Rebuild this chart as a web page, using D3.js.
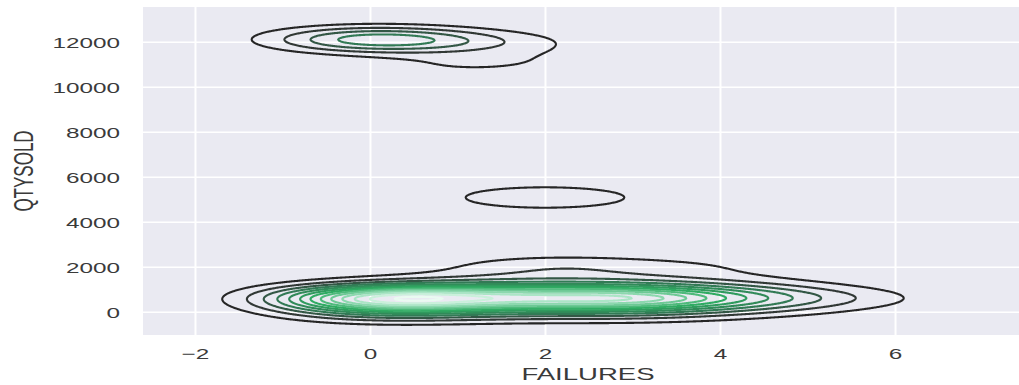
<!DOCTYPE html>
<html>
<head>
<meta charset="utf-8">
<script src="https://cdn.jsdelivr.net/npm/d3@7"></script>
<style>
  body { margin: 0; background: #ffffff; }
  svg { display: block; }
</style>
</head>
<body>
<svg id="chart" width="1019" height="385"></svg>
<script>
// Weighted observations: number of failures vs. quantity sold
const failures = [0, 1, 1, 2, 2, 2,                 2,
                  0, 1, 2, 3, 4, 5, 6,
                  0, 1, 2, 3, 4, 5,
                  0, 1, 2, 3, 4, 5,
                  1, 2, 3, 4];
const qtySold  = [12100, 12000, 10950, 12100, 11600, 11100, 5075,
                  600, 600, 600, 600, 600, 600, 600,
                  0, 0, 0, 0, 0, 0,
                  1200, 1200, 1200, 1200, 1200, 1200,
                  2000, 2000, 2000, 2000];
const weight   = [4.1, 1.3, 0.8, 0.2, 0.25, 0.35,   1.9,
                  8.4, 5.3, 4.6, 6.2, 2.9, 1.4, 0.3,
                  1.8, 1.0, 0.8, 1.0, 0.5, 0.2,
                  0.2, 0.8, 1.0, 0.8, 0.6, 0.2,
                  0.2, 1.2, 0.6, 0.5];

// Kernel bandwidth (failures, quantity) and spacing between contour levels
const bandwidth = [0.8, 400];
const levelStep = 1;

const xTicks = [-2, 0, 2, 4, 6];
const yTicks = [0, 2000, 4000, 6000, 8000, 10000, 12000];
const xLabel = "FAILURES";
const yLabel = "QTYSOLD";

// Layout
const margin = { left: 143, top: 7, right: 1033, bottom: 335 };
const stretch = 1.62;           // wide text rendering
const W = margin.right - margin.left;
const H = margin.bottom - margin.top;
const font = "'Liberation Sans', Arial, sans-serif";

const svg = d3.select("#chart");

const x = d3.scaleLinear().domain([-2.594, 7.577]).range([margin.left, margin.right]);
const y = d3.scaleLinear().domain([-1036, 13542]).range([margin.bottom, margin.top]);

// Plot background
svg.append("rect")
  .attr("x", margin.left).attr("y", margin.top)
  .attr("width", W).attr("height", H)
  .attr("fill", "#eaeaf2");

// Grid + tick labels via d3 axes
const xAxis = svg.append("g")
  .attr("transform", `translate(0,${margin.bottom})`)
  .call(d3.axisBottom(x).tickValues(xTicks).tickSize(-H).tickPadding(0).tickFormat(d3.format("d")));
xAxis.select(".domain").remove();
xAxis.selectAll(".tick line").attr("stroke", "#ffffff").attr("stroke-width", 2);
xAxis.selectAll(".tick text")
  .attr("y", 0).attr("dy", 0)
  .attr("transform", `translate(0,24) scale(${stretch},1)`)
  .attr("fill", "#3a3a3a")
  .style("font-family", font)
  .style("font-size", "15px");

const yAxis = svg.append("g")
  .attr("transform", `translate(${margin.left},0)`)
  .call(d3.axisLeft(y).tickValues(yTicks).tickSize(-W).tickPadding(0).tickFormat(d3.format("d")));
yAxis.select(".domain").remove();
yAxis.selectAll(".tick line").attr("stroke", "#ffffff").attr("stroke-width", 1.4);
yAxis.selectAll(".tick text")
  .attr("x", 0).attr("dy", 0)
  .attr("transform", `translate(-23,5.5) scale(${stretch},1)`)
  .attr("fill", "#3a3a3a")
  .style("font-family", font)
  .style("font-size", "15px");

// Axis titles
svg.append("text")
  .attr("transform", `translate(${(margin.left + margin.right) / 2},380) scale(${stretch},1)`)
  .attr("text-anchor", "middle")
  .attr("fill", "#3a3a3a")
  .style("font-family", font)
  .style("font-size", "17px")
  .text(xLabel);

svg.append("text")
  .attr("transform", `translate(33,${(margin.top + margin.bottom) / 2}) scale(${stretch},1) rotate(-90)`)
  .attr("text-anchor", "middle")
  .attr("fill", "#3a3a3a")
  .style("font-family", font)
  .style("font-size", "17px")
  .text(yLabel);

// Bivariate Gaussian KDE evaluated on a pixel grid
const nx = Math.ceil(W), ny = Math.ceil(H);
const points = failures.map((f, i) => ({ f, q: qtySold[i], w: weight[i] }));
const gx = points.map(p => {
  const a = new Float64Array(nx);
  for (let i = 0; i < nx; i++) {
    const d = (x.invert(margin.left + i + 0.5) - p.f) / bandwidth[0];
    a[i] = Math.exp(-0.5 * d * d);
  }
  return a;
});
const gy = points.map(p => {
  const a = new Float64Array(ny);
  for (let j = 0; j < ny; j++) {
    const d = (y.invert(margin.top + j + 0.5) - p.q) / bandwidth[1];
    a[j] = Math.exp(-0.5 * d * d);
  }
  return a;
});
const grid = new Float64Array(nx * ny);
points.forEach((p, k) => {
  const ax = gx[k], ay = gy[k];
  for (let j = 0; j < ny; j++) {
    const wy = p.w * ay[j];
    if (wy < 1e-6) continue;
    const row = j * nx;
    for (let i = 0; i < nx; i++) grid[row + i] += wy * ax[i];
  }
});

const maxDensity = d3.max(grid);
const levels = d3.range(levelStep, maxDensity, levelStep);

// Low density: near black, rising through green to pale mint
const color = d3.scaleLinear()
  .domain([1, 2.2, 4, 7, 10.5, 13])
  .range(["#262626", "#333b38", "#327a55", "#2fab62", "#9be0bb", "#eafaf1"])
  .clamp(true);

const contours = d3.contours().size([nx, ny]).thresholds(levels)(grid);
const path = d3.geoPath(d3.geoIdentity().translate([margin.left, margin.top]));

svg.append("g")
  .selectAll("path")
  .data(contours)
  .join("path")
  .attr("d", path)
  .attr("fill", "none")
  .attr("stroke", d => color(d.value))
  .attr("stroke-width", 2.1)
  .attr("stroke-linejoin", "round");
</script>
</body>
</html>
